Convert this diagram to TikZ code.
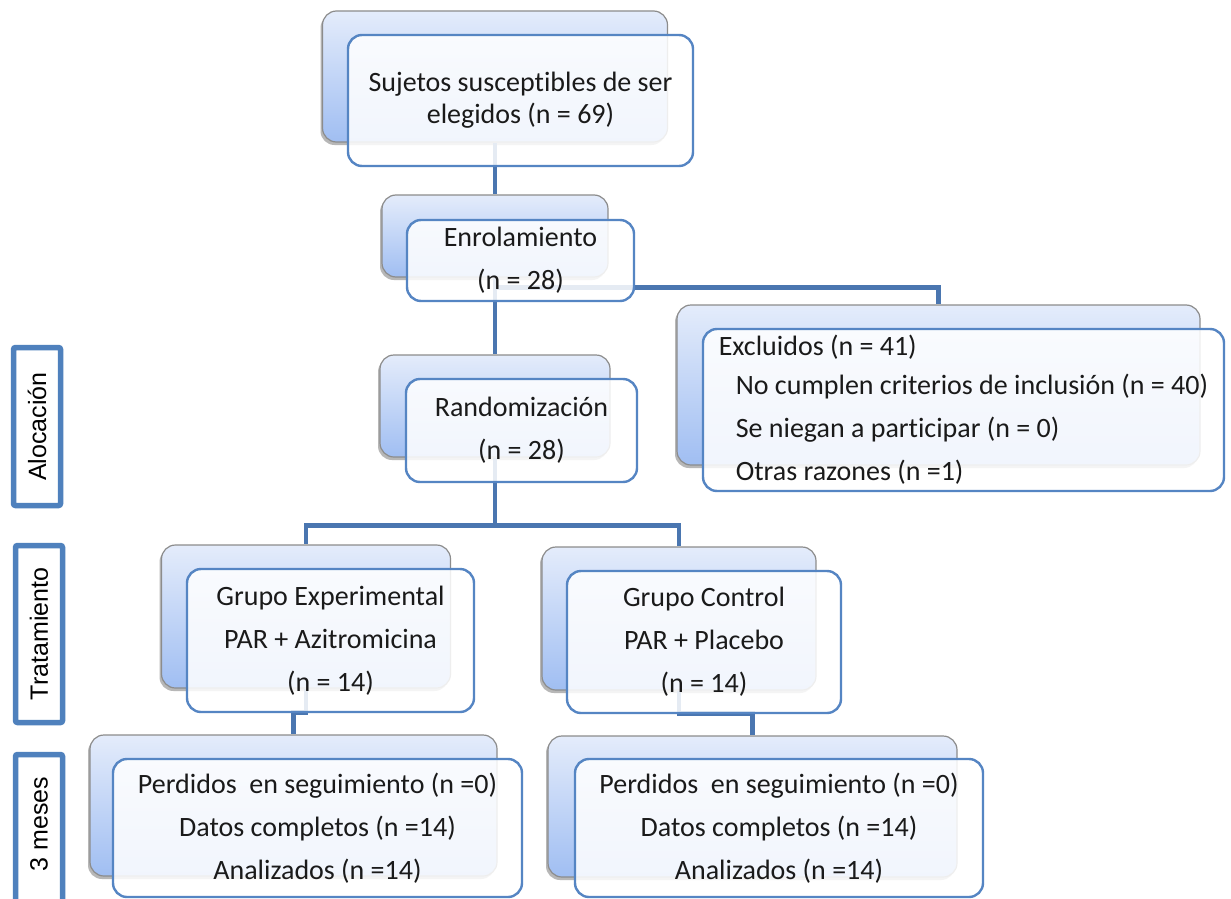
\documentclass[tikz,border=0pt]{standalone}
\usepackage{fontspec}
\setmainfont{Carlito}[Ligatures=NoCommon]
\newfontfamily\arialf{Liberation Sans}
\usetikzlibrary{shadows,calc}
\definecolor{connc}{HTML}{4A76B0}
\definecolor{frontc}{HTML}{5585C3}
\definecolor{sidec}{HTML}{4F81BD}
\definecolor{backtop}{HTML}{E4ECFB}
\definecolor{backbot}{HTML}{A0BEF2}
\definecolor{backdraw}{HTML}{8C8C8C}
\definecolor{textc}{HTML}{1A1A1A}
\tikzset{
  backbox/.style={draw=backdraw, line width=1.2pt, rounded corners=14pt,
    top color=backtop, bottom color=backbot, inner sep=0pt,
    drop shadow={shadow xshift=-2pt, shadow yshift=-3pt, opacity=0.4, fill=black!70}},
  frontbox/.style={draw=frontc, line width=2.4pt, rounded corners=14pt,
    fill=white, fill opacity=0.86, text opacity=1, inner sep=0pt, text=textc,
    align=center, font=\fontsize{28}{43}\selectfont},
  sidebox/.style={draw=sidec, line width=5.5pt, rounded corners=2pt, fill=white,
    inner sep=0pt},
  sidetext/.style={rotate=90, font=\arialf\fontsize{25}{25}\selectfont},
  conn/.style={draw=connc, line width=4.8pt},
}
\begin{document}
\begin{tikzpicture}[x=1pt,y=-1pt]
\clip (0,0) rectangle (1231,899);
\fill[white] (0,0) rectangle (1231,899);

% side labels
\node[sidebox, minimum width=47pt, minimum height=158pt] (s1) at (37,426.5) {};
\node[sidetext] (t1) at (s1.center) {Alocación};
\node[sidebox, minimum width=47pt, minimum height=177pt] (s2) at (39,634) {};
\node[sidetext] (t2) at (s2.center) {Tratamiento};
\node[sidebox, minimum width=47pt, minimum height=170pt] (s3) at (39,839.5) {};
\node[sidetext] (t3) at (39,824) {3 meses};

% back boxes
\node[backbox, minimum width=345pt, minimum height=131pt] (b1) at (495,76.5) {};
\node[backbox, minimum width=226pt, minimum height=82pt] (b2) at (495,236) {};
\node[backbox, minimum width=230pt, minimum height=102pt] (b3) at (495,406) {};
\node[backbox, minimum width=523pt, minimum height=160pt] (bx) at (938.5,385) {};
\node[backbox, minimum width=289pt, minimum height=143pt] (bg1) at (306,616.5) {};
\node[backbox, minimum width=274pt, minimum height=143pt] (bg2) at (679,618.5) {};
\node[backbox, minimum width=407pt, minimum height=141pt] (bb1) at (293.5,805.5) {};
\node[backbox, minimum width=409pt, minimum height=141pt] (bb2) at (752.5,806.5) {};

% connectors
\draw[conn] (b1.south) -- (b2.north);
\draw[conn] (b2.south) -- (b3.north);
\coordinate (ex) at ($(b2.south)+(0,10)$);
\draw[conn] (ex) -| (bx.north);
\coordinate (sp) at ($(b3.south)+(0,68)$);
\draw[conn] (b3.south) -- (sp);
\draw[conn] (sp) -| (bg1.north);
\draw[conn] (sp) -| (bg2.north);
\draw[conn] (bg1.south) -- ++(0,24) -| (bb1.north);
\draw[conn] (bg2.south) -- ++(0,23) -| (bb2.north);

% front boxes
\node[frontbox, minimum width=345pt, minimum height=131pt,
  font=\fontsize{28}{32}\selectfont] (f1) at (520.5,100.5)
  {Sujetos susceptibles de ser\\elegidos (n = 69)};
\node[frontbox, minimum width=227pt, minimum height=81pt] (f2) at (520.5,260.5)
  {Enrolamiento\\(n = 28)};
\node[frontbox, minimum width=231pt, minimum height=103pt] (f3) at (521.5,430.5)
  {Randomización\\(n = 28)};
\node[frontbox, minimum width=521pt, minimum height=162pt, align=left] (fx) at (963.5,410)
  {Excluidos (n = 41)\\[-4pt]
   \hspace*{17pt}No cumplen criterios de inclusión (n = 40)\\
   \hspace*{17pt}Se niegan a participar (n = 0)\\
   \hspace*{17pt}Otras razones (n =1)};
\node[frontbox, minimum width=287pt, minimum height=143pt] (fg1) at (330.5,640.5)
  {Grupo Experimental\\PAR + Azitromicina\\(n = 14)};
\node[frontbox, minimum width=274pt, minimum height=142pt] (fg2) at (704,642)
  {Grupo Control\\PAR + Placebo\\(n = 14)};
\node[frontbox, minimum width=409pt, minimum height=138pt] (fb1) at (317.5,828)
  {Perdidos\ \ en seguimiento (n =0)\\Datos completos (n =14)\\Analizados (n =14)};
\node[frontbox, minimum width=408pt, minimum height=138pt] (fb2) at (779,828)
  {Perdidos\ \ en seguimiento (n =0)\\Datos completos (n =14)\\Analizados (n =14)};
\end{tikzpicture}
\end{document}
